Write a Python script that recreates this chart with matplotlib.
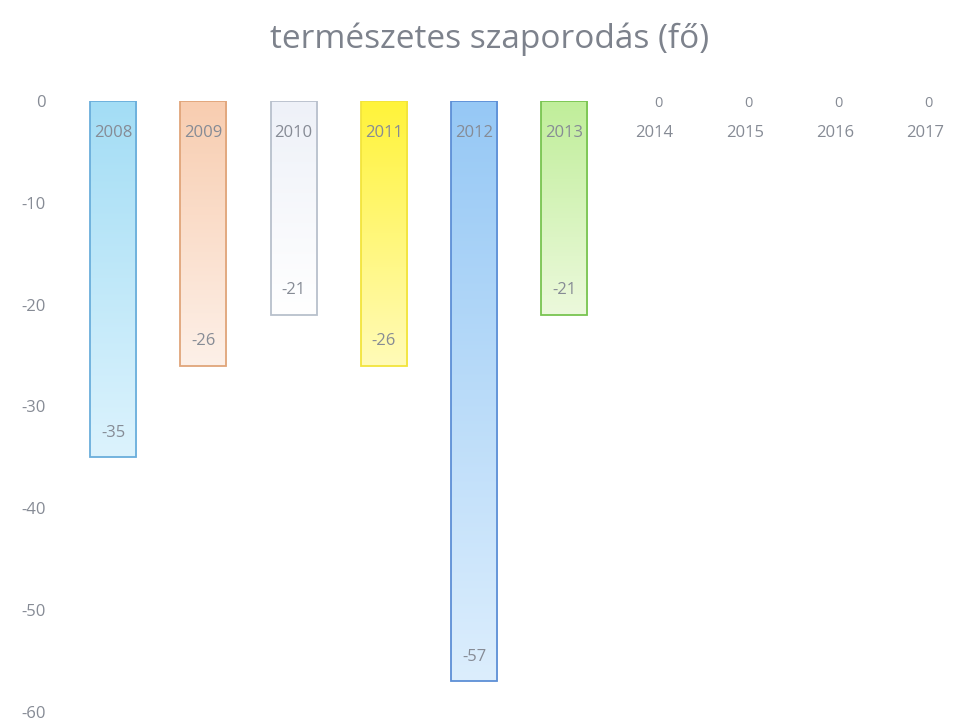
import matplotlib.pyplot as plt
import numpy as np
from matplotlib.colors import LinearSegmentedColormap

plt.rcParams['font.family'] = ['Open Sans', 'DejaVu Sans']
plt.rcParams['axes.unicode_minus'] = False

years = ['2008', '2009', '2010', '2011', '2012', '2013', '2014', '2015', '2016', '2017']
values = [-35, -26, -21, -26, -57, -21, 0, 0, 0, 0]
top_colors = ['#a3ddf5', '#f8cdb0', '#eef1f8', '#fff33a', '#96c8f5', '#c0ee9a', '#ffffff', '#ffffff', '#ffffff', '#ffffff']
low_colors = ['#dcf3fd', '#fdf0e8', '#ffffff', '#fffbb8', '#dceefd', '#ecf9dc', '#ffffff', '#ffffff', '#ffffff', '#ffffff']
edge_colors = ['#6aaedb', '#e0a57a', '#b8c0cc', '#f2e43c', '#5d8fd6', '#78c450', '#ffffff', '#ffffff', '#ffffff', '#ffffff']

txt = '#868b95'

fig = plt.figure(figsize=(9.54, 7.24), dpi=100)
ax = fig.add_axes([68 / 954, (724 - 712) / 724, (954 - 68) / 954, (712 - 101) / 724])

x = np.arange(len(years))
bars = ax.bar(x, values, width=0.51, color='none', edgecolor=edge_colors, linewidth=1.3, zorder=3)

# gradient fill inside each bar
for b, c1, c2, v in zip(bars, top_colors, low_colors, values):
    if v == 0:
        continue
    cmap = LinearSegmentedColormap.from_list('g', [c1, c2])
    grad = np.linspace(0, 1, 256).reshape(-1, 1)
    im = ax.imshow(grad, cmap=cmap, aspect='auto', zorder=2,
                   extent=[b.get_x(), b.get_x() + b.get_width(), b.get_y() + b.get_height(), b.get_y()])
    im.set_clip_path(b)

for xi, v, y in zip(x, values, years):
    ax.text(xi, -3.1, y, ha='center', va='center', fontsize=12, color=txt, zorder=4)
    if v == 0:
        ax.text(xi + 0.04, -0.2, str(v), ha='center', va='center', fontsize=10.5, color=txt, zorder=4)
    else:
        ax.text(xi, v + 2.4, str(v), ha='center', va='center', fontsize=12, color=txt, zorder=4)

ax.set_xlim(-0.5, 9.32)
ax.set_ylim(-60, 0)
ax.set_yticks(range(0, -61, -10))
ax.tick_params(axis='y', length=0, labelsize=12, labelcolor=txt, pad=16)
ax.set_xticks([])
for s in ax.spines.values():
    s.set_visible(False)

fig.text(0.513, 0.946, 'természetes szaporodás (fő)', ha='center', va='center', fontsize=24, color='#7d828c')

fig.savefig('out.png', dpi=100)
